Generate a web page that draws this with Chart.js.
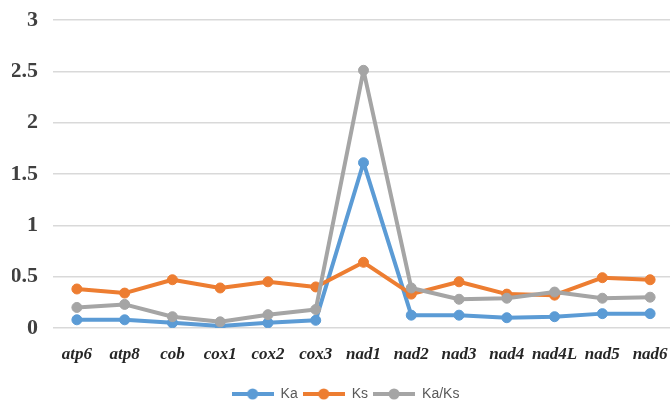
<!DOCTYPE html>
<html>
<head>
<meta charset="utf-8">
<script src="https://cdn.jsdelivr.net/npm/chart.js@4.4.1/dist/chart.umd.min.js"></script>
<style>
  html, body { margin: 0; padding: 0; background: #fff; overflow: hidden; }
  #wrap { width: 680px; height: 411px; position: relative; }
</style>
</head>
<body>
<div id="wrap"><canvas id="chart"></canvas></div>
<script>
// categories and series
let genes = ['atp6', 'atp8', 'cob', 'cox1', 'cox2', 'cox3', 'nad1', 'nad2', 'nad3', 'nad4', 'nad4L', 'nad5', 'nad6'];
let kaValues = [0.08, 0.08, 0.05, 0.02, 0.05, 0.075, 1.61, 0.125, 0.125, 0.10, 0.11, 0.14, 0.14];
let ksValues = [0.38, 0.34, 0.47, 0.39, 0.45, 0.40, 0.64, 0.33, 0.45, 0.33, 0.32, 0.49, 0.47];
let kaksValues = [0.20, 0.23, 0.11, 0.06, 0.13, 0.18, 2.51, 0.39, 0.28, 0.29, 0.35, 0.29, 0.30];
let seriesNames = ['Ka', 'Ks', 'Ka/Ks'];
let seriesColors = ['#5b9bd5', '#ed7d31', '#a5a5a5'];

// little line-with-dot marker for the legend
function legendMarker(color) {
	let c = document.createElement('canvas');
	c.width = 42;
	c.height = 12;
	let g = c.getContext('2d');
	g.strokeStyle = color;
	g.lineWidth = 4;
	g.beginPath();
	g.moveTo(0, 6);
	g.lineTo(42, 6);
	g.stroke();
	g.fillStyle = color;
	g.beginPath();
	g.arc(21, 6, 5.5, 0, Math.PI * 2);
	g.fill();
	return c;
}

function makeSeries(i, data) {
	return {
		label: seriesNames[i],
		data: data,
		borderColor: seriesColors[i],
		backgroundColor: seriesColors[i],
		pointBackgroundColor: seriesColors[i],
		pointBorderColor: seriesColors[i],
		borderWidth: 4,
		borderJoinStyle: 'round',
		borderCapStyle: 'round',
		pointRadius: 5,
		pointBorderWidth: 1,
		tension: 0,
		fill: false,
		order: 3 - i
	};
}

let ctx = document.getElementById('chart').getContext('2d');
let chart = new Chart(ctx, {
	type: 'line',
	data: {
		labels: genes,
		datasets: [
			makeSeries(0, kaValues),
			makeSeries(1, ksValues),
			makeSeries(2, kaksValues)
		]
	},
	options: {
		responsive: true,
		maintainAspectRatio: false,
		animation: false,
		layout: { padding: { top: 20, left: 12, right: 1, bottom: 0 } },
		plugins: {
			tooltip: { enabled: false },
			legend: {
				position: 'bottom',
				labels: {
					usePointStyle: true,
					pointStyleWidth: 42,
					padding: 5,
					color: '#595959',
					font: { family: 'Liberation Sans', size: 14 },
					generateLabels: function (ch) {
						return ch.data.datasets.map(function (ds, i) {
							return {
								text: ds.label,
								pointStyle: legendMarker(seriesColors[i]),
								fillStyle: seriesColors[i],
								strokeStyle: seriesColors[i],
								lineWidth: 0,
								fontColor: '#595959',
								datasetIndex: i
							};
						});
					}
				}
			}
		},
		scales: {
			x: {
				offset: true,
				grid: { display: false, drawTicks: false },
				border: { display: false },
				ticks: {
					padding: 16,
					color: '#262626',
					maxRotation: 0,
					autoSkip: false,
					font: { family: 'Liberation Serif', size: 17, style: 'italic', weight: 'bold' }
				},
				afterFit: function (scale) {
					scale.height = 54;
					scale.paddingLeft = 0;
					scale.paddingRight = 0;
				}
			},
			y: {
				min: 0,
				max: 3,
				grid: { color: '#d9d9d9', lineWidth: 1.5, drawTicks: false },
				border: { display: false },
				ticks: {
					stepSize: 0.5,
					padding: 15,
					color: '#404040',
					font: { family: 'Liberation Serif', size: 22, weight: 'bold' },
					callback: function (v) { return String(Math.round(v * 10) / 10); }
				},
				afterFit: function (scale) {
					scale.width = 41;
					scale.paddingTop = 0;
					scale.paddingBottom = 0;
				}
			}
		}
	}
});
</script>
</body>
</html>
